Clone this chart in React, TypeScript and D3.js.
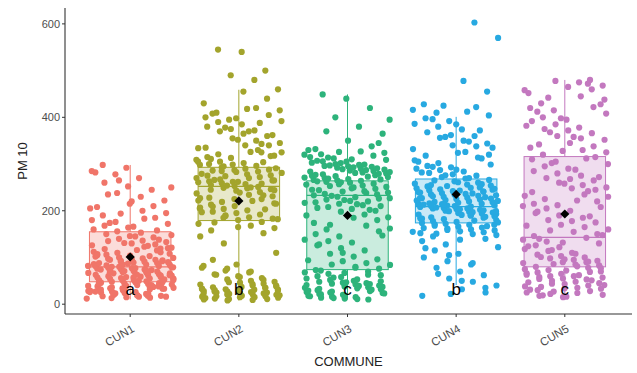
import React from 'react';
import * as d3 from 'd3';

const communes = ['CUN1', 'CUN2', 'CUN3', 'CUN4', 'CUN5'];
const colors = ['#f07569', '#a3a42c', '#2db37b', '#27a9e1', '#c378bf'];
const letters = ['a', 'b', 'c', 'b', 'c'];
const yTicks = [0, 200, 400, 600];

// box stats: lower whisker, Q1, median, Q3, upper whisker, mean
const whiskerLow = [10, 8, 10, 41, 18];
const q1 = [48, 179, 74, 174, 80];
const median = [80, 252, 233, 209, 143];
const q3 = [155, 293, 264, 268, 316];
const whiskerHigh = [298, 459, 449, 401, 480];
const means = [101, 221, 190, 235, 193];

// PM10 observations per commune (estimated from the jittered points)
const cun1 = [12, 14, 15, 18, 19, 20, 22, 24, 25, 26, 27, 28, 30, 31, 33, 34, 35, 36, 38, 40, 41, 42, 43, 44, 45, 47, 48, 49, 50, 51, 52, 54, 55, 56, 57, 58, 60, 61, 62, 63, 64, 65, 66, 68, 69, 70, 71, 72, 74, 75, 76, 77, 78, 79, 80, 81, 82, 83, 84, 85, 86, 88, 89, 90, 91, 93, 95, 96, 97, 98, 100, 102, 104, 106, 108, 110, 112, 115, 118, 120, 123, 126, 128, 130, 133, 136, 140, 143, 146, 150, 153, 156, 160, 164, 168, 172, 176, 180, 185, 190, 195, 200, 205, 210, 215, 222, 230, 238, 245, 252, 260, 270, 278, 285, 292, 298, 16, 21, 29, 37, 46, 53, 59, 67, 73, 87, 94, 16, 23, 32, 39,
  17, 19, 23, 26, 28, 31, 33, 36, 39, 41, 44, 47, 50, 52, 55, 58, 61, 63, 66, 69, 71, 74, 77, 80, 82, 85, 88, 92, 95, 99, 103, 107, 111, 116, 121, 125, 131, 138, 145, 13, 22, 34, 45, 57, 68, 79, 91, 105, 119, 135, 148, 18, 27, 38, 49, 62, 73, 84, 158, 166, 174, 183, 194, 208, 220, 235, 250, 265, 282];
const cun2 = [8, 10, 11, 12, 14, 15, 16, 17, 18, 20, 21, 22, 23, 24, 25, 26, 27, 28, 29, 30, 31, 32, 33, 35, 36, 38, 40, 42, 44, 46, 48, 50, 53, 56, 60, 64, 68, 72, 78, 85, 95, 110, 130, 145, 152, 158, 163, 168, 172, 176, 180, 183, 186, 189, 192, 195, 198, 201, 204, 207, 210, 213, 216, 219, 222, 225, 228, 231, 234, 237, 240, 243, 246, 248, 249, 251, 253, 255, 257, 259, 261, 262, 263, 265, 267, 270, 272, 275, 276, 278, 281, 284, 287, 288, 290, 293, 296, 299, 300, 302, 305, 309, 313, 315, 317, 321, 325, 330, 335, 340, 340, 345, 350, 355, 360, 365, 370, 372, 375, 380, 385, 390, 392, 395, 400, 405, 410, 415, 420, 430, 440, 455, 460, 480, 490, 500, 540, 545,
  9, 11, 13, 15, 17, 19, 21, 23, 25, 27, 29, 31, 33, 35, 37, 40, 43, 47, 52, 58, 63, 70, 76, 82, 165, 175, 182, 190, 197, 203, 209, 215, 221, 227, 233, 239, 244, 250, 254, 258, 262, 266, 270, 274, 279, 283, 286, 291, 295, 298, 304, 311, 318, 326, 334, 343, 352, 362, 370, 378, 388, 398, 408, 418, 185, 205, 225, 245, 265, 285, 305, 325];
const cun3 = [10, 12, 14, 15, 16, 18, 20, 22, 24, 25, 26, 28, 30, 32, 34, 35, 36, 38, 40, 42, 44, 45, 46, 48, 50, 52, 55, 58, 60, 62, 65, 68, 70, 73, 76, 80, 84, 88, 92, 96, 102, 108, 115, 120, 126, 132, 135, 138, 145, 150, 156, 160, 162, 168, 174, 180, 185, 186, 192, 198, 200, 204, 208, 212, 215, 218, 221, 224, 227, 230, 233, 235, 236, 239, 242, 245, 247, 248, 251, 254, 257, 258, 260, 262, 264, 265, 266, 268, 270, 272, 274, 275, 276, 278, 280, 282, 284, 285, 286, 288, 290, 292, 294, 295, 296, 298, 300, 303, 305, 306, 309, 312, 315, 318, 321, 324, 327, 330, 338, 350, 365, 380, 400, 420, 440, 449,
  11, 13, 17, 19, 21, 23, 27, 29, 31, 33, 37, 39, 41, 43, 47, 49, 53, 57, 63, 67, 72, 78, 85, 94, 110, 128, 147, 170, 190, 202, 206, 210, 214, 217, 220, 223, 226, 229, 232, 238, 241, 244, 250, 253, 256, 261, 263, 267, 269, 271, 273, 277, 279, 281, 283, 287, 289, 291, 293, 297, 299, 302, 307, 310, 314, 320, 326, 332, 345, 370, 395];
const cun4 = [18, 25, 32, 40, 48, 55, 62, 70, 78, 85, 92, 100, 108, 115, 122, 128, 135, 140, 145, 148, 150, 152, 154, 156, 158, 160, 162, 164, 166, 168, 170, 172, 174, 176, 178, 180, 182, 184, 185, 186, 188, 190, 192, 194, 195, 196, 198, 200, 202, 204, 205, 205, 206, 208, 210, 210, 212, 214, 215, 215, 216, 218, 220, 222, 224, 225, 226, 228, 230, 232, 234, 235, 236, 238, 240, 242, 244, 245, 246, 248, 250, 252, 254, 256, 258, 260, 263, 266, 269, 272, 275, 278, 281, 284, 287, 290, 293, 296, 299, 302, 308, 314, 318, 320, 326, 332, 338, 340, 344, 350, 356, 360, 362, 368, 374, 380, 386, 392, 398, 404, 410, 416, 422, 428, 455, 478, 570, 603,
  22, 35, 50, 65, 88, 105, 120, 138, 151, 155, 159, 163, 167, 171, 175, 179, 183, 187, 191, 193, 197, 199, 201, 203, 207, 209, 211, 213, 217, 219, 221, 223, 227, 229, 231, 233, 237, 239, 241, 243, 247, 249, 253, 257, 261, 265, 270, 276, 282, 288, 294, 199, 213, 227, 241, 255, 170, 190, 305, 312, 324, 335, 348, 358, 372, 385, 396, 412, 425];
const cun5 = [15, 18, 20, 22, 25, 28, 30, 33, 35, 38, 40, 43, 45, 48, 50, 53, 55, 58, 60, 60, 63, 65, 68, 70, 73, 75, 78, 80, 83, 85, 88, 90, 90, 93, 95, 98, 100, 103, 106, 110, 114, 118, 122, 126, 130, 134, 138, 142, 146, 150, 155, 160, 165, 170, 175, 178, 180, 185, 190, 195, 200, 205, 210, 212, 215, 220, 225, 230, 235, 240, 245, 248, 250, 255, 260, 265, 268, 270, 275, 280, 285, 290, 295, 300, 305, 310, 315, 320, 325, 330, 335, 338, 345, 352, 355, 360, 366, 372, 375, 378, 385, 392, 395, 400, 408, 415, 420, 422, 430, 438, 445, 452, 460, 465, 468, 475, 478, 480,
  16, 19, 24, 27, 31, 34, 37, 41, 44, 47, 51, 54, 57, 62, 66, 69, 72, 77, 81, 86, 91, 96, 101, 108, 116, 124, 132, 140, 148, 158, 168, 188, 198, 208, 222, 232, 242, 258, 272, 288, 302, 312, 328, 342, 358, 368, 382, 398, 412, 428, 442, 458, 472];
const observations = [cun1, cun2, cun3, cun4, cun5];

const W = 637;
const H = 373;
const left = 65;
const right = 632;
const top = 8;
const bottom = 314;

const font = '"Liberation Sans", Arial, sans-serif';

export default function App() {
  const x = d3.scalePoint<string>().domain(communes).range([left, 630]).padding(0.6);
  const y = d3.scaleLinear().domain([-21, 634]).range([bottom, top]);
  const step = x.step();
  const boxW = step * 0.75;
  const jitterW = step * 0.4;

  const diamond = (cx: number, cy: number, r: number) =>
    `M${cx},${cy - r}L${cx + r},${cy}L${cx},${cy + r}L${cx - r},${cy}Z`;

  return (
    <div style={{ position: 'absolute', left: 0, top: 0 }}>
      <svg width={W} height={H} style={{ display: 'block', background: '#fff' }} fontFamily={font}>
        {communes.map((c, i) => {
          const cx = x(c)!;
          const col = colors[i];
          return (
            <g key={c}>
              {/* whiskers */}
              <line x1={cx} x2={cx} y1={y(q3[i])} y2={y(whiskerHigh[i])} stroke={col} strokeWidth={1} />
              <line x1={cx} x2={cx} y1={y(q1[i])} y2={y(whiskerLow[i])} stroke={col} strokeWidth={1} />
              {/* box */}
              <rect
                x={cx - boxW / 2}
                y={y(q3[i])}
                width={boxW}
                height={y(q1[i]) - y(q3[i])}
                fill={col}
                fillOpacity={0.25}
                stroke={col}
                strokeWidth={1}
              />
              <line x1={cx - boxW / 2} x2={cx + boxW / 2} y1={y(median[i])} y2={y(median[i])} stroke={col} strokeWidth={1.2} />
              {/* jittered points */}
              {observations[i].map((v, k) => {
                const frac = (k * 0.618034 + i * 0.37 + (k % 3) * 0.11) % 1;
                return <circle key={k} cx={cx + (frac - 0.5) * 2 * jitterW} cy={y(v)} r={3.1} fill={col} />;
              })}
              {/* mean */}
              <path d={diamond(cx, y(means[i]), 4.6)} fill="#000" />
              <text x={cx} y={y(33)} dy="0.35em" textAnchor="middle" fontSize={17} fill="#000">
                {letters[i]}
              </text>
            </g>
          );
        })}

        {/* y axis */}
        <line x1={left} x2={left} y1={top} y2={bottom} stroke="#333" strokeWidth={1.1} />
        {yTicks.map((t) => (
          <g key={t}>
            <line x1={left - 3} x2={left} y1={y(t)} y2={y(t)} stroke="#333" />
            <text x={left - 5} y={y(t)} dy="0.35em" textAnchor="end" fontSize={11} fill="#4d4d4d">
              {t}
            </text>
          </g>
        ))}

        {/* x axis */}
        <line x1={left} x2={right} y1={bottom} y2={bottom} stroke="#333" strokeWidth={1.1} />
        {communes.map((c) => (
          <g key={c}>
            <line x1={x(c)!} x2={x(c)!} y1={bottom} y2={bottom + 3} stroke="#333" />
            <text
              transform={`translate(${x(c)! + 1},${bottom + 10}) rotate(-30)`}
              textAnchor="end"
              dy="0.7em"
              fontSize={11.5}
              fill="#4d4d4d"
            >
              {c}
            </text>
          </g>
        ))}

        <text x={(left + right) / 2} y={361} dy="0.35em" textAnchor="middle" fontSize={13} fill="#222">
          COMMUNE
        </text>
        <text transform={`translate(22,161) rotate(-90)`} dy="0.35em" textAnchor="middle" fontSize={13} fill="#222">
          PM 10
        </text>
      </svg>
    </div>
  );
}
